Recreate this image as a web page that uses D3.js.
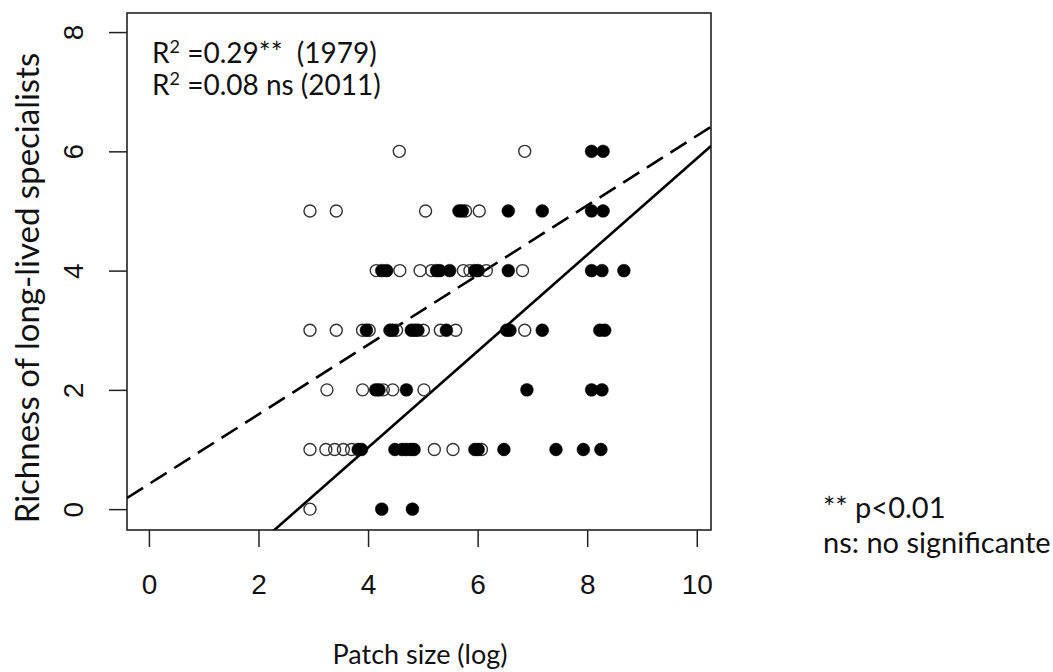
<!DOCTYPE html>
<html><head><meta charset="utf-8">
<script src="https://cdn.jsdelivr.net/npm/d3@7"></script>
<style>html,body{margin:0;padding:0;background:#fff;} text{white-space:pre;}</style>
</head><body>
<svg id="chart" width="1053" height="672"></svg>
<script>
// open circles
const openX = [
  2.94, // y=0
  2.94, 3.23, 3.39, 3.55, 3.70, 5.21, 5.55, 6.07, // y=1
  3.25, 3.90, 4.28, 4.45, 5.02, // y=2
  2.94, 3.42, 3.90, 4.02, 4.52, 5.01, 5.32, 5.60, 6.86, // y=3
  4.15, 4.58, 4.95, 5.16, 5.74, 5.86, 6.16, 6.82, // y=4
  2.94, 3.42, 5.05, 5.78, 6.03, // y=5
  4.57, 6.86 // y=6
];
const openY = [
  0,
  1, 1, 1, 1, 1, 1, 1, 1,
  2, 2, 2, 2, 2,
  3, 3, 3, 3, 3, 3, 3, 3, 3,
  4, 4, 4, 4, 4, 4, 4, 4,
  5, 5, 5, 5, 5,
  6, 6
];
// filled circles
const filledX = [
  4.25, 4.81, // y=0
  3.82, 3.88, 4.49, 4.62, 4.70, 4.78, 4.84, 5.95, 6.01, 6.48, 7.43, 7.93, 8.25, // y=1
  4.14, 4.20, 4.70, 6.90, 8.08, 8.27, // y=2
  3.97, 4.40, 4.45, 4.79, 4.85, 4.91, 5.43, 6.53, 6.59, 7.18, 8.23, 8.32, // y=3
  4.25, 4.34, 5.25, 5.31, 5.49, 5.95, 6.01, 6.56, 8.08, 8.27, 8.67, // y=4
  5.66, 5.72, 6.56, 7.18, 8.08, 8.29, // y=5
  8.08, 8.29 // y=6
];
const filledY = [
  0, 0,
  1, 1, 1, 1, 1, 1, 1, 1, 1, 1, 1, 1, 1,
  2, 2, 2, 2, 2, 2,
  3, 3, 3, 3, 3, 3, 3, 3, 3, 3, 3, 3,
  4, 4, 4, 4, 4, 4, 4, 4, 4, 4, 4,
  5, 5, 5, 5, 5, 5,
  6, 6
];
// regression lines: [intercept, slope]
const lineNames = ["solid", "dashed"];
const lineIntercepts = [-2.20, 0.42];
const lineSlopes = [0.808, 0.584];

const xTicks = [0, 2, 4, 6, 8, 10];
const yTicks = [0, 2, 4, 6, 8];
const annot = ["=0.29**  (1979)", "=0.08 ns (2011)"];
const notes = ["** p<0.01", "ns: no significante"];
const xTitle = "Patch size (log)";
const yTitle = "Richness of long-lived specialists";

const svg = d3.select("#chart");
const L = 127, R = 711, T = 13, B = 530;
const x = d3.scaleLinear().domain([-0.4, 10.26]).range([L, R]);
const y = d3.scaleLinear().domain([-0.35, 8.32]).range([B, T]);

svg.append("defs").append("clipPath").attr("id", "clip")
  .append("rect").attr("x", L).attr("y", T).attr("width", R - L).attr("height", B - T);

// axes
const xAxis = svg.append("g").attr("transform", `translate(0,${B})`)
  .call(d3.axisBottom(x).tickValues(xTicks).tickSize(17).tickFormat(d3.format("d")));
xAxis.select(".domain").remove();
xAxis.selectAll("line").attr("stroke", "#222").attr("stroke-width", 1.5);
xAxis.selectAll("text").attr("font-family", "'Liberation Sans', Arial, sans-serif")
  .attr("font-size", 28).attr("fill", "#111").attr("y", 64).attr("dy", 0);

const yAxis = svg.append("g").attr("transform", `translate(${L},0)`)
  .call(d3.axisLeft(y).tickValues(yTicks).tickSize(18).tickFormat(d3.format("d")));
yAxis.select(".domain").remove();
yAxis.selectAll("line").attr("stroke", "#222").attr("stroke-width", 1.5);
yAxis.selectAll("text").attr("font-family", "'Liberation Sans', Arial, sans-serif")
  .attr("font-size", 28).attr("fill", "#111")
  .attr("transform", "rotate(-90)").attr("x", 0).attr("y", -44).attr("dy", 0)
  .attr("text-anchor", "middle");

// frame
svg.append("rect").attr("x", L).attr("y", T).attr("width", R - L).attr("height", B - T)
  .attr("fill", "none").attr("stroke", "#222").attr("stroke-width", 1.6);

// lines
const lineGen = d3.line().x(d => x(d[0])).y(d => y(d[1]));
const gl = svg.append("g").attr("clip-path", "url(#clip)");
lineNames.forEach((n, i) => {
  const pts = x.domain().map(v => [v, lineIntercepts[i] + lineSlopes[i] * v]);
  gl.append("path").attr("d", lineGen(pts)).attr("fill", "none")
    .attr("stroke", "#000").attr("stroke-width", 2.6)
    .attr("stroke-dasharray", n === "dashed" ? "19,9" : null);
});

// points
svg.append("g").selectAll("circle").data(openX.map((v, i) => [v, openY[i]])).join("circle")
  .attr("cx", d => x(d[0])).attr("cy", d => y(d[1])).attr("r", 6)
  .attr("fill", "none").attr("stroke", "#333").attr("stroke-width", 1.4);
svg.append("g").selectAll("circle").data(filledX.map((v, i) => [v, filledY[i]])).join("circle")
  .attr("cx", d => x(d[0])).attr("cy", d => y(d[1])).attr("r", 6.4)
  .attr("fill", "#000").attr("stroke", "#000").attr("stroke-width", 0.5);

// annotations
const fam = "Lato, 'Open Sans', sans-serif";
annot.forEach((a, i) => {
  const t = svg.append("text").attr("x", 152).attr("y", 63 + i * 32)
    .attr("font-family", fam).attr("font-size", 28).attr("fill", "#111")
    .attr("xml:space", "preserve");
  t.append("tspan").text("R");
  t.append("tspan").text("2").attr("font-size", 18).attr("dy", -10);
  t.append("tspan").text(" " + a).attr("dy", 10);
});
notes.forEach((n, i) => {
  svg.append("text").attr("x", 823).attr("y", 518 + i * 35)
    .attr("font-family", fam).attr("font-size", 29).attr("fill", "#111").text(n);
});
svg.append("text").attr("x", 420).attr("y", 664).attr("text-anchor", "middle")
  .attr("font-family", fam).attr("font-size", 27).attr("fill", "#111").text(xTitle);
svg.append("text").attr("transform", "translate(39,288) rotate(-90)").attr("text-anchor", "middle")
  .attr("font-family", fam).attr("font-size", 33).attr("fill", "#111").text(yTitle);
</script>
</body></html>
